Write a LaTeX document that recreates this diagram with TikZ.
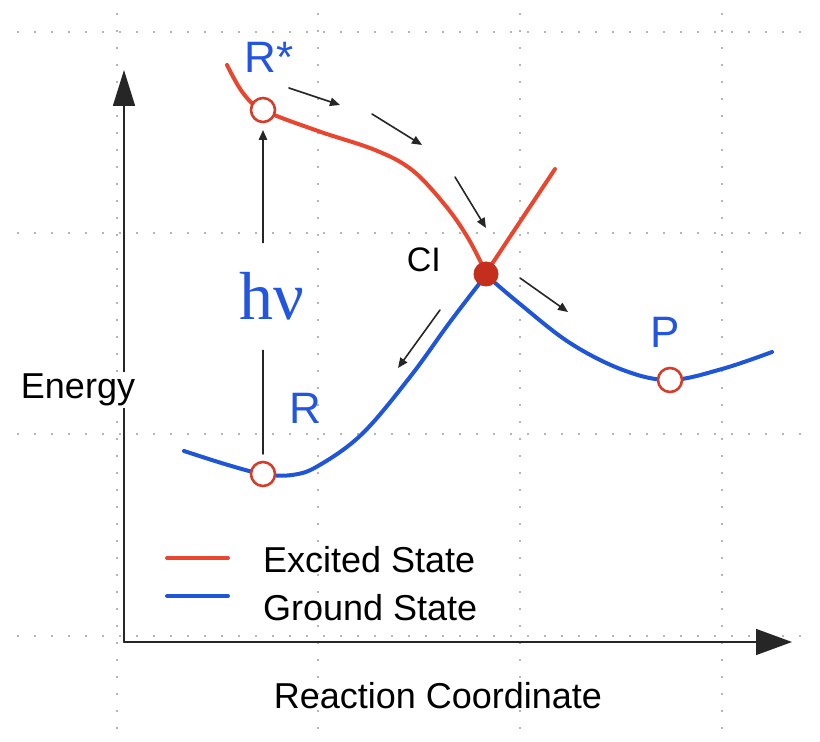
\documentclass[tikz,border=0pt]{standalone}
\usepackage{fontspec}
\setmainfont{Liberation Sans}
\newfontfamily\pesserif{Liberation Serif}
\usepackage{tikz}
\usetikzlibrary{arrows.meta,positioning}
\definecolor{pesExcited}{HTML}{E8462E}
\definecolor{pesGround}{HTML}{1F56D8}
\definecolor{pesLabel}{HTML}{2356E0}
\definecolor{pesCI}{HTML}{C42E1C}
\definecolor{pesRing}{HTML}{D63C2A}
\definecolor{pesGrid}{HTML}{B4B4B4}
\tikzset{
  pes diagram/.style={line cap=round, line join=round},
  pes grid/.style={draw=pesGrid, line width=1pt, line cap=butt,
    dash pattern=on 1pt off 7.5pt},
  pes axis/.style={-{Triangle[length=18pt,width=11pt]}, draw=black!85,
    line width=0.8pt},
  pes excited/.style={draw=pesExcited, line width=2pt},
  pes ground/.style={draw=pesGround, line width=2pt},
  pes ring/.style={circle, draw=pesRing, fill=white, line width=1.3pt,
    minimum size=12pt, inner sep=0pt, outer sep=0pt},
  pes ci/.style={circle, fill=pesCI, minimum size=12.5pt, inner sep=0pt,
    outer sep=0pt},
  pes step/.style={-{Triangle[length=5pt,width=4.2pt]}, draw=black!85,
    line width=0.8pt},
  pes label/.style={font=\fontsize{22}{26}\selectfont, text=pesLabel,
    anchor=base},
  pes text/.style={font=\fontsize{18}{22}\selectfont, text=black}
}
\begin{document}
\begin{tikzpicture}[pes diagram,x=0.5pt,y=-0.5pt]
\useasboundingbox (0,0) rectangle (820,742);
% dotted grid
\foreach \gx in {117,318,520,722}
  \draw[pes grid] (\gx,13) -- (\gx,742);
\foreach \gy in {32,233,434,636}
  \draw[pes grid] (17,\gy) -- (812,\gy);
% axes
\coordinate (O) at (124,642);
\draw[pes axis] (O) -- (124,70);
\draw[pes axis,-{Triangle[length=18pt,width=13pt]}] (O) -- (792,642);
\node[pes text,anchor=base,fill=white,inner sep=1pt] (energy) at (78,399) {Energy};
\node[pes text,anchor=base] (rc) at (438,709) {Reaction Coordinate};
% potential energy curves
\draw[pes excited] plot[smooth,tension=0.6] coordinates
  {(227,65) (243,93) (263,110) (318,131) (375,150) (412,170) (445,205) (468,238) (486,273)};
\draw[pes excited] (486,273) -- (555,169);
\draw[pes ground] plot[smooth,tension=0.6] coordinates
  {(184,451) (228,465) (263,474) (292,475) (318,466) (362,434) (410,377) (450,322) (486,275)};
\draw[pes ground] plot[smooth,tension=0.6] coordinates
  {(486,275) (520,304) (570,343) (623,370) (670,380) (722,369) (772,352)};
% stationary points
\node[pes ring] (Rs) at (263,110) {};
\node[pes ring] (R) at (263,474) {};
\node[pes ring] (P) at (670,380) {};
\node[pes ci] (CI) at (486,274) {};
\node[pes label] (Rs label) at (269,73) {R*};
\node[pes label] (R label) at (305,424) {R};
\node[pes label] (P label) at (665,348) {P};
\node[pes text,font=\fontsize{17}{20}\selectfont,anchor=base east] (CI label) at (448,272) {CI};
% excitation
\node[font=\pesserif\fontsize{34}{40}\selectfont, text=pesLabel,
  minimum height=53.5pt, inner sep=0pt] (hv) at (272,296.5) {hν};
\draw[draw=black!85,line width=0.8pt,shorten <=4pt] (R) -- (R |- hv.south);
\draw[pes step,shorten >=4pt] (R |- hv.north) -- (Rs);
% reaction path
\foreach \ax/\ay/\bx/\by in {289/88/340/105, 372/114/422/145, 455/177/486/228,
  520/278/568/312, 440/310/398/368}
  \draw[pes step] (\ax,\ay) -- (\bx,\by);
% legend
\draw[pes excited] (167,558) -- (228,558);
\draw[pes ground] (167,596) -- (228,596);
\node[pes text,anchor=base west] (exc) at (256,573) {Excited State};
\node[pes text,anchor=base west] (gnd) at (256,621) {Ground State};
\end{tikzpicture}
\end{document}
